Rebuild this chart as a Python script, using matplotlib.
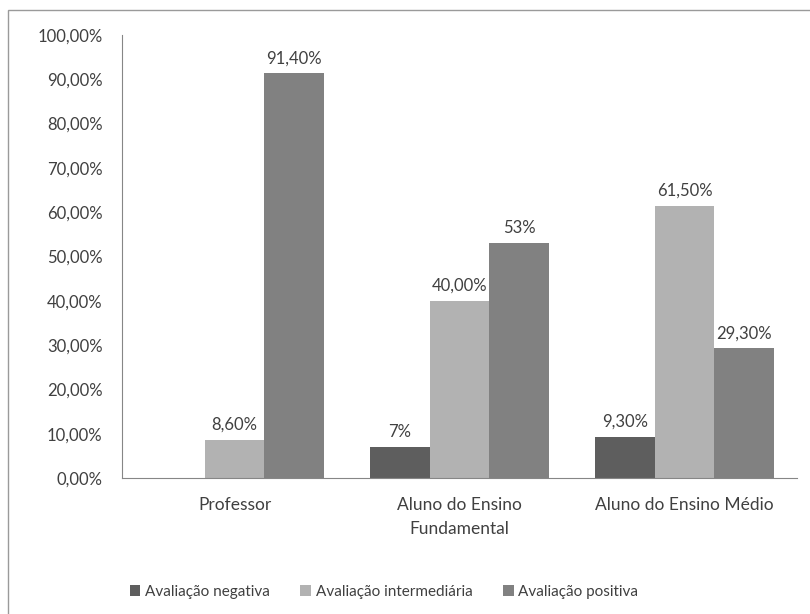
import numpy as np
import matplotlib.pyplot as plt
from matplotlib.patches import Rectangle

plt.rcParams['font.family'] = ['Lato', 'DejaVu Sans']

# dados
grupos = ["Professor", "Aluno do Ensino\nFundamental", "Aluno do Ensino Médio"]
series = ["Avaliação negativa", "Avaliação intermediária", "Avaliação positiva"]
negativa = [np.nan, 7.0, 9.3]
intermediaria = [8.6, 40.0, 61.5]
positiva = [91.4, 53.0, 29.3]
rotulos_neg = ["", "7%", "9,30%"]
rotulos_int = ["8,60%", "40,00%", "61,50%"]
rotulos_pos = ["91,40%", "53%", "29,30%"]
yticks = np.arange(0, 101, 10)

cores = ["#5e5e5e", "#b2b2b2", "#818181"]
texto = "#404040"

fig = plt.figure(figsize=(8.1, 6.14), dpi=100)
ax = fig.add_axes([122/810, 1-478/614, 675/810, 443/614])

x = np.arange(len(grupos))
w = 0.265
dados = [negativa, intermediaria, positiva]
rotulos = [rotulos_neg, rotulos_int, rotulos_pos]
for i, (vals, labs) in enumerate(zip(dados, rotulos)):
    pos = x + (i - 1) * w
    ax.bar(pos, vals, width=w, color=cores[i], label=series[i])
    for p, v, lab in zip(pos, vals, labs):
        if lab:
            ax.annotate(lab, (p, v), xytext=(0, 5), textcoords="offset points",
                        ha="center", va="bottom", fontsize=12, color=texto)

ax.set_xlim(-0.5, 2.5)
ax.set_ylim(0, 100)
ax.set_yticks(yticks)
ax.set_yticklabels([f"{t},00%" for t in yticks])
ax.set_xticks(x)
ax.set_xticklabels(grupos, linespacing=1.55)
ax.tick_params(axis="both", length=0, colors=texto)
ax.tick_params(axis="y", pad=14, labelsize=12)
ax.tick_params(axis="x", pad=14, labelsize=12.5)
for s in ["top", "right"]:
    ax.spines[s].set_visible(False)
for s in ["left", "bottom"]:
    ax.spines[s].set_color("#868686")

fig.legend(loc="center", bbox_to_anchor=(384/810, 1-592/614), ncol=3, frameon=False,
           fontsize=11, handlelength=0.7, handleheight=0.7, handletextpad=0.3,
           columnspacing=2.0, labelcolor=texto)

fig.patches.append(Rectangle((8/810, -0.1), 1.2, 1.1 - 10/614, transform=fig.transFigure,
                             fill=False, edgecolor="#9a9a9a", linewidth=1))

fig.savefig("out.png", dpi=100)
